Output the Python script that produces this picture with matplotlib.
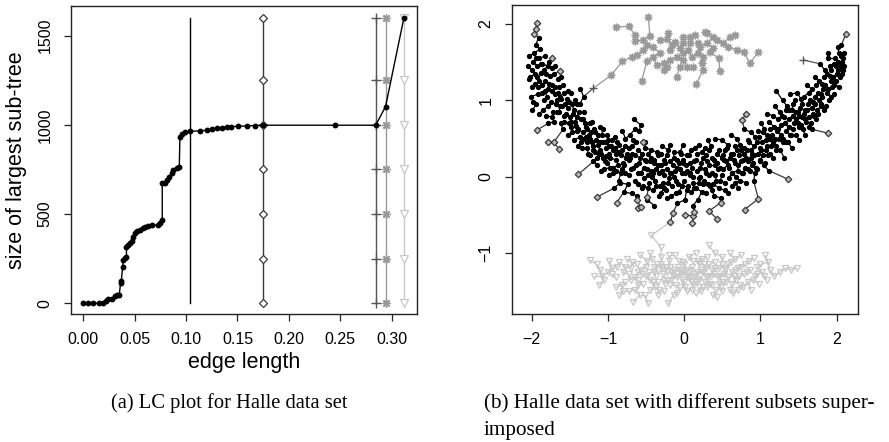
import numpy as np
import matplotlib
matplotlib.use("Agg")
import matplotlib.pyplot as plt
from matplotlib.collections import LineCollection

# ---------------- Left panel data (LC plot) ----------------
lc_x = [0.0, 0.0049, 0.0097, 0.0149, 0.0195, 0.022, 0.024, 0.0276, 0.031, 0.033, 0.035,
        0.0363, 0.037, 0.0383, 0.039, 0.0405, 0.042, 0.042, 0.0438, 0.0454, 0.047, 0.0486,
        0.050, 0.052, 0.055, 0.0577, 0.060, 0.063, 0.0665, 0.073, 0.0746, 0.0768, 0.0768,
        0.0794, 0.081, 0.0833, 0.086, 0.0875, 0.0908, 0.0934, 0.094, 0.0957, 0.0989, 0.1038,
        0.1135, 0.120, 0.1248, 0.130, 0.1346, 0.1394, 0.144, 0.1508, 0.159, 0.167, 0.175,
        0.2448, 0.2844, 0.294, 0.3119]
lc_y = [0, 0, 0, 0, 4, 15, 22, 26, 41, 47, 47,
        116, 127, 205, 243, 252, 258, 318, 327, 336, 351, 374,
        392, 405, 411, 420, 430, 433, 437, 439, 452, 467, 673,
        676, 691, 710, 729, 747, 757, 766, 934, 949, 959, 964,
        966, 970, 977, 981, 985, 988, 990, 992, 994, 996, 998,
        998, 998, 1102, 1600]
cut_x = 0.104
level_y = [0, 250, 500, 750, 1000, 1250, 1600]
diamond_x = 0.175
plus_x = 0.2844
star_x = 0.294
tri_x = 0.3119

# ---------------- Right panel data (Halle data set) ----------------
black_pts = [
    (-2.02,1.30),(-2.03,1.58),(-1.98,1.50),(-2.00,1.40),(-1.97,1.62),(-2.01,1.05),(-1.99,0.87),(-1.96,1.22),(-1.95,1.72),(-2.04,1.28),
    (-1.93,1.45),(-1.90,1.55),(-1.92,1.18),(-1.88,1.36),(-1.94,0.95),(-1.87,1.10),(-1.91,1.82),(-1.89,1.67),(-1.86,1.48),(-1.90,0.82),(-1.93,1.30),
    (-1.84,1.40),(-1.82,1.25),(-1.80,1.05),(-1.78,0.92),(-1.83,1.58),(-1.77,1.50),(-1.79,1.15),(-1.81,0.80),(-1.76,1.32),(-1.84,1.00),(-1.78,0.70),
    (-1.73,1.20),(-1.70,1.08),(-1.68,0.95),(-1.74,1.42),(-1.72,0.85),(-1.66,1.28),(-1.69,1.45),(-1.71,0.72),(-1.67,1.00),(-1.74,1.12),
    (-1.63,1.05),(-1.60,0.92),(-1.58,0.80),(-1.64,1.18),(-1.62,0.70),(-1.57,1.10),(-1.59,0.62),(-1.61,1.30),(-1.56,0.95),(-1.64,0.85),
    (-1.53,0.90),(-1.50,0.78),(-1.48,0.65),(-1.54,1.02),(-1.47,0.95),(-1.52,0.55),(-1.46,0.82),(-1.49,1.10),(-1.51,0.70),
    (-1.43,0.72),(-1.40,0.60),(-1.38,0.85),(-1.44,0.48),(-1.37,0.52),(-1.41,0.95),(-1.36,1.15),(-1.39,0.40),(-1.42,0.66),(-1.35,0.75),
    (-1.33,0.58),(-1.30,0.70),(-1.28,0.45),(-1.34,0.38),(-1.27,0.62),(-1.31,0.85),(-1.26,0.30),(-1.29,0.52),(-1.32,1.05),
    (-1.23,0.50),(-1.20,0.40),(-1.18,0.62),(-1.24,0.28),(-1.17,0.33),(-1.21,0.72),(-1.16,0.48),(-1.19,0.20),(-1.22,0.58),
    (-1.13,0.42),(-1.10,0.35),(-1.08,0.55),(-1.14,0.15),(-1.07,0.25),(-1.11,0.65),(-1.06,0.45),(-1.09,0.08),(-1.12,0.30),
    (-1.03,0.38),(-1.00,0.48),(-0.98,0.30),(-1.04,0.20),(-0.97,0.12),(-1.01,0.55),(-0.96,0.40),(-0.99,0.02),(-1.02,0.27),
    (-0.93,0.35),(-0.90,0.22),(-0.88,0.45),(-0.94,0.05),(-0.87,0.15),(-0.91,0.52),(-0.86,-0.05),(-0.89,0.30),(-0.92,-0.15),
    (-0.83,0.28),(-0.80,0.18),(-0.78,0.40),(-0.84,-0.08),(-0.77,0.05),(-0.81,0.60),(-0.76,0.25),(-0.79,-0.20),(-0.82,0.10),
    (-0.73,0.22),(-0.70,0.10),(-0.68,0.30),(-0.74,-0.10),(-0.67,0.48),(-0.71,0.55),(-0.66,0.75),(-0.69,-0.22),(-0.72,0.38),(-0.65,0.62),
    (-0.63,0.15),(-0.60,0.05),(-0.58,0.25),(-0.64,-0.05),(-0.57,0.68),(-0.61,0.35),(-0.56,-0.15),(-0.59,0.60),(-0.62,-0.25),
    (-0.53,0.12),(-0.50,0.20),(-0.48,0.02),(-0.54,-0.12),(-0.47,0.30),(-0.51,0.38),(-0.46,-0.08),(-0.49,-0.30),(-0.52,0.45),
    (-0.43,0.08),(-0.40,0.18),(-0.38,-0.05),(-0.44,0.25),(-0.37,0.10),(-0.41,-0.18),(-0.36,0.32),(-0.39,-0.38),(-0.42,0.00),
    (-0.33,0.05),(-0.30,0.15),(-0.28,-0.08),(-0.34,0.28),(-0.27,0.02),(-0.31,-0.22),(-0.26,0.22),(-0.29,0.40),(-0.32,-0.12),
    (-0.23,0.10),(-0.20,-0.02),(-0.18,0.20),(-0.24,-0.18),(-0.17,0.05),(-0.21,0.35),(-0.16,-0.12),(-0.19,0.42),(-0.22,-0.28),
    (-0.13,0.00),(-0.10,0.12),(-0.08,-0.10),(-0.14,0.25),(-0.07,0.18),(-0.11,-0.22),(-0.06,0.32),(-0.09,-0.35),(-0.12,0.08),
    (-0.03,0.05),(0.00,-0.05),(0.02,0.15),(-0.04,0.30),(0.03,-0.18),(-0.01,0.42),(0.04,0.08),(0.01,-0.30),(-0.02,0.22),
    (0.07,0.02),(0.10,0.12),(0.12,-0.08),(0.06,0.28),(0.13,0.20),(0.09,-0.20),(0.14,0.38),(0.11,-0.38),(0.08,0.05),
    (0.17,0.08),(0.20,-0.02),(0.22,0.18),(0.16,-0.15),(0.23,0.32),(0.19,0.42),(0.24,-0.10),(0.21,0.00),(0.18,-0.30),
    (0.27,0.10),(0.30,0.20),(0.32,0.02),(0.26,-0.05),(0.33,0.35),(0.29,-0.22),(0.34,-0.12),(0.31,0.48),(0.28,0.28),
    (0.37,0.05),(0.40,0.15),(0.42,-0.05),(0.36,0.25),(0.43,0.30),(0.39,-0.25),(0.44,0.10),(0.41,0.50),(0.38,-0.10),
    (0.47,0.12),(0.50,0.02),(0.52,0.22),(0.46,-0.15),(0.53,0.35),(0.49,0.48),(0.54,-0.08),(0.51,0.28),(0.48,-0.28),
    (0.57,0.15),(0.60,0.25),(0.62,0.05),(0.56,0.38),(0.63,-0.12),(0.59,-0.02),(0.64,0.30),(0.61,0.55),(0.58,-0.22),
    (0.67,0.18),(0.70,0.08),(0.72,0.28),(0.66,0.40),(0.73,-0.05),(0.69,0.50),(0.74,0.35),(0.71,-0.15),(0.68,0.00),
    (0.77,0.22),(0.80,0.12),(0.82,0.35),(0.76,0.05),(0.83,0.48),(0.79,0.62),(0.84,0.20),(0.81,-0.08),(0.78,0.30),
    (0.87,0.25),(0.90,0.18),(0.92,0.40),(0.86,0.08),(0.93,0.52),(0.89,0.30),(0.94,0.12),(0.91,-0.05),(0.88,0.58),
    (0.97,0.30),(1.00,0.22),(1.02,0.45),(0.96,0.10),(1.03,0.58),(0.99,0.38),(1.04,0.15),(1.01,0.70),(0.98,0.52),
    (1.07,0.35),(1.10,0.28),(1.12,0.50),(1.06,0.18),(1.13,0.62),(1.09,0.82),(1.14,0.40),(1.11,0.08),(1.08,0.55),
    (1.17,0.45),(1.20,0.35),(1.22,0.60),(1.16,0.25),(1.23,0.75),(1.19,0.92),(1.24,0.50),(1.21,1.12),(1.18,0.65),
    (1.27,0.55),(1.30,0.45),(1.32,0.70),(1.26,0.35),(1.33,0.88),(1.29,1.00),(1.34,0.60),(1.31,0.25),(1.28,0.80),
    (1.37,0.65),(1.40,0.55),(1.42,0.80),(1.36,0.45),(1.43,0.95),(1.39,1.08),(1.44,0.70),(1.41,0.38),(1.38,0.88),
    (1.47,0.75),(1.50,0.65),(1.52,0.90),(1.46,0.55),(1.53,1.02),(1.49,0.85),(1.54,0.78),(1.51,0.48),(1.48,1.10),
    (1.57,0.82),(1.60,0.72),(1.62,0.95),(1.56,0.62),(1.63,1.10),(1.59,0.88),(1.64,0.78),(1.61,1.20),(1.58,0.55),
    (1.67,0.90),(1.70,0.80),(1.72,1.05),(1.66,0.70),(1.73,1.20),(1.69,0.98),(1.74,0.88),(1.71,1.30),(1.68,0.62),
    (1.77,1.00),(1.80,0.92),(1.82,1.15),(1.76,0.82),(1.83,1.30),(1.79,1.08),(1.84,1.40),(1.81,1.22),(1.78,1.48),
    (1.87,1.10),(1.90,1.00),(1.92,1.25),(1.86,0.92),(1.93,1.40),(1.89,1.55),(1.94,1.18),(1.91,1.32),(1.88,1.62),
    (1.97,1.20),(2.00,1.35),(2.02,1.50),(1.96,1.08),(2.03,1.62),(1.99,1.45),(2.04,1.30),(2.01,1.70),(1.98,1.55),
    (2.06,1.45),(2.08,1.55),(2.07,1.35),(2.09,1.62),(2.06,1.72),(2.08,1.40),
]
black_pts_more = [
    (-2.05,1.45),(-2.00,1.18),(-1.98,0.98),(-1.96,1.35),(-1.94,1.55),(-1.92,1.08),(-1.90,1.25),(-1.88,1.48),(-1.86,1.20),
    (-1.85,0.88),(-1.83,1.12),(-1.81,1.35),(-1.79,1.45),(-1.77,1.22),(-1.75,0.98),(-1.73,0.78),(-1.71,1.35),(-1.69,1.18),
    (-1.67,0.85),(-1.65,1.10),(-1.63,0.92),(-1.61,1.02),(-1.59,1.20),(-1.57,0.72),(-1.55,0.82),(-1.53,1.12),(-1.51,0.98),
    (-1.49,0.72),(-1.47,0.58),(-1.45,0.88),(-1.43,1.00),(-1.41,0.78),(-1.39,0.62),(-1.37,0.95),(-1.35,0.45),(-1.33,0.75),
    (-1.31,0.50),(-1.29,0.65),(-1.27,0.38),(-1.25,0.55),(-1.23,0.70),(-1.21,0.45),(-1.19,0.35),(-1.17,0.58),(-1.15,0.25),
    (-1.13,0.55),(-1.11,0.45),(-1.09,0.30),(-1.07,0.62),(-1.05,0.10),(-1.03,0.45),(-1.01,0.18),
    (-0.99,0.40),(-0.97,0.25),(-0.95,0.48),(-0.93,0.12),(-0.91,0.38),(-0.89,0.08),(-0.87,0.32),(-0.85,0.42),(-0.83,0.05),
    (-0.81,0.35),(-0.79,0.15),(-0.77,0.50),(-0.75,0.30),(-0.73,0.02),(-0.71,0.25),(-0.69,0.40),(-0.67,0.12),(-0.65,0.28),
    (-0.63,0.45),(-0.61,-0.10),(-0.59,0.18),(-0.57,0.05),(-0.55,0.30),(-0.53,-0.02),(-0.51,0.22),
    (-0.49,0.10),(-0.47,-0.15),(-0.45,0.20),(-0.43,0.35),(-0.41,0.05),(-0.39,0.22),(-0.37,-0.12),(-0.35,0.15),(-0.33,-0.25),
    (-0.31,0.30),(-0.29,0.08),(-0.27,-0.15),(-0.25,0.18),(-0.23,0.28),(-0.21,-0.08),(-0.19,0.05),(-0.17,-0.25),(-0.15,0.15),
    (-0.13,0.32),(-0.11,-0.05),(-0.09,0.22),(-0.07,-0.20),(-0.05,0.10),(-0.03,-0.12),(-0.01,0.18),
    (0.01,0.05),(0.03,0.28),(0.05,-0.12),(0.07,0.18),(0.09,0.35),(0.11,0.00),(0.13,-0.15),(0.15,0.22),(0.17,0.30),
    (0.19,-0.08),(0.21,0.12),(0.23,-0.20),(0.25,0.25),(0.27,0.38),(0.29,0.05),(0.31,-0.10),(0.33,0.15),(0.35,0.40),
    (0.37,-0.18),(0.39,0.22),(0.41,0.02),(0.43,0.18),(0.45,0.35),(0.47,-0.05),(0.49,0.25),
    (0.51,0.10),(0.53,-0.18),(0.55,0.20),(0.57,0.42),(0.59,0.12),(0.61,0.30),(0.63,0.05),(0.65,0.22),(0.67,-0.08),
    (0.69,0.35),(0.71,0.15),(0.73,0.42),(0.75,0.20),(0.77,0.05),(0.79,0.38),(0.81,0.25),(0.83,0.10),(0.85,0.45),
    (0.87,0.35),(0.89,0.15),(0.91,0.28),(0.93,0.05),(0.95,0.45),(0.97,0.60),(0.99,0.20),
    (1.01,0.35),(1.03,0.28),(1.05,0.62),(1.07,0.48),(1.09,0.40),(1.11,0.72),(1.13,0.30),(1.15,0.55),(1.17,0.80),
    (1.19,0.50),(1.21,0.40),(1.23,0.62),(1.25,0.85),(1.27,0.68),(1.29,0.50),(1.31,0.78),(1.33,0.45),(1.35,0.92),
    (1.37,0.75),(1.39,0.55),(1.41,0.88),(1.43,0.62),(1.45,1.00),(1.47,0.85),(1.49,0.70),
    (1.51,0.80),(1.53,0.68),(1.55,0.95),(1.57,1.05),(1.59,0.75),(1.61,0.88),(1.63,0.65),(1.65,1.00),(1.67,1.15),
    (1.69,0.82),(1.71,0.95),(1.73,0.75),(1.75,1.10),(1.77,1.25),(1.79,0.95),(1.81,1.05),(1.83,0.88),(1.85,1.20),
    (1.87,1.35),(1.89,1.15),(1.91,1.45),(1.93,1.05),(1.95,1.30),(1.97,1.48),(1.99,1.25),(2.01,1.40),(2.03,1.18),
    (2.05,1.58),(2.07,1.50),(2.09,1.45),
]
diamond_pts = [
    (-1.935,2.01),(-1.944,1.93),(-1.97,1.87),(-1.73,1.55),(-1.63,1.38),(-1.935,0.61),(-1.79,0.46),
    (-1.71,0.45),(-1.64,0.36),(-1.39,0.03),(-1.15,-0.27),(-0.886,-0.34),(-0.62,-0.30),(-0.60,-0.415),
    (-0.57,-0.40),(-0.49,-0.26),(-0.536,0.46),(-0.15,-0.48),(-0.18,-0.59),(0.015,-0.50),(0.12,-0.515),
    (0.107,-0.61),(0.133,-0.46),(0.325,-0.45),(0.426,-0.55),(0.478,-0.34),(0.793,-0.43),(0.972,-0.29),
    (1.366,-0.035),(1.89,0.57),(0.758,0.74),(0.806,0.82),(2.118,1.87),
]
plus_pts = [(-1.19,1.16),(1.56,1.53)]
star_pts = [
    (-0.90,1.96),(-0.73,1.97),(-0.645,1.86),(-0.47,2.09),(-0.45,1.84),(-0.54,1.79),(-0.645,1.78),
    (-0.405,1.70),(-0.49,1.73),(-0.32,1.79),(-0.21,1.88),(-0.23,1.80),(-0.12,1.77),(-0.01,1.83),
    (0.076,1.83),(0.14,1.86),(0.185,1.75),(0.27,1.90),(0.295,1.88),(0.38,1.83),(0.43,1.79),
    (0.51,1.75),(0.60,1.83),(0.67,1.86),(0.69,1.66),(0.86,1.485),(0.97,1.63),(0.78,1.64),
    (0.45,1.55),(0.47,1.38),(0.34,1.64),(0.25,1.57),(0.16,1.22),(0.12,1.44),(-0.01,1.62),
    (-0.055,1.68),(-0.10,1.57),(-0.19,1.53),(-0.27,1.485),(-0.36,1.46),(-0.49,1.51),(-0.56,1.25),
    (-0.10,1.31),(-0.27,1.40),(-0.32,1.62),(-0.405,1.57),(-0.19,1.66),(-0.01,1.53),(0.054,1.66),
    (0.10,1.57),(0.21,1.70),(0.23,1.485),(-0.54,1.66),(-0.62,1.595),(-0.69,1.57),(-0.81,1.51),
    (-0.96,1.33),(0.076,1.75),(0.185,1.62),(0.295,1.75),(0.38,1.68),(0.58,1.70),(0.03,1.44),
    (-0.055,1.44),(0.25,1.40),(-0.23,1.44),(-0.165,1.73),(-0.01,1.75),
]
tri_pts = [
    (-1.24,-1.09),(-1.15,-1.15),(-1.10,-1.22),(-1.18,-1.30),(-1.05,-1.35),(-1.12,-1.42),(-0.98,-1.10),
    (-0.95,-1.28),(-0.90,-1.45),(-0.88,-1.18),(-0.85,-1.55),(-0.80,-1.25),(-0.78,-1.38),(-0.75,-1.08),
    (-0.72,-1.50),(-0.70,-1.20),(-0.67,-1.64),(-0.65,-1.32),(-0.62,-1.15),(-0.60,-1.42),(-0.58,-1.02),
    (-0.55,-1.28),(-0.52,-1.55),(-0.50,-1.18),(-0.47,-1.66),(-0.45,-1.35),(-0.43,-0.77),(-0.42,-1.08),
    (-0.40,-1.25),(-0.38,-1.45),(-0.36,-1.15),(-0.34,-1.38),(-0.31,-0.92),(-0.30,-1.05),(-0.28,-1.28),
    (-0.26,-1.50),(-0.24,-1.18),(-0.22,-1.35),(-0.21,-1.66),(-0.20,-1.10),(-0.18,-1.42),(-0.16,-1.25),
    (-0.14,-1.55),(-0.12,-1.02),(-0.10,-1.32),(-0.08,-1.18),(-0.06,-1.45),(-0.04,-1.28),(-0.02,-1.12),
    (0.00,-1.38),(0.02,-1.22),(0.04,-1.50),(0.06,-1.05),(0.08,-1.32),(0.10,-1.18),(0.12,-1.42),
    (0.14,-1.28),(0.16,-1.53),(0.18,-1.10),(0.20,-1.35),(0.22,-1.22),(0.24,-1.45),(0.26,-1.15),
    (0.28,-1.30),(0.30,-1.05),(0.32,-0.90),(0.34,-1.40),(0.36,-1.22),(0.38,-1.55),(0.40,-1.12),
    (0.43,-1.57),(0.44,-1.32),(0.46,-1.20),(0.48,-1.45),(0.50,-1.05),(0.52,-1.28),(0.55,-1.38),
    (0.57,-1.15),(0.60,-1.48),(0.62,-1.25),(0.645,-1.53),(0.66,-1.08),(0.68,-1.35),(0.70,-1.20),
    (0.73,-1.42),(0.75,-1.02),(0.78,-1.28),(0.80,-1.15),(0.83,-1.38),(0.86,-1.22),(0.88,-1.48),
    (0.91,-1.07),(0.93,-1.30),(0.96,-1.18),(0.98,-1.40),(1.02,-1.25),(1.06,-1.03),(1.08,-1.35),
    (1.12,-1.22),(1.18,-1.30),(1.25,-1.25),(1.32,-1.20),(1.40,-1.22),(1.475,-1.20),
    (-0.50,-1.30),(-0.35,-1.22),(-0.25,-1.40),(-0.15,-1.30),(-0.05,-1.22),(0.05,-1.30),(0.15,-1.38),
    (0.25,-1.25),(0.35,-1.30),(0.45,-1.40),(-0.60,-1.25),(-0.45,-1.48),(0.10,-1.48),(0.30,-1.45),
    (0.55,-1.20),(-0.30,-1.15),(0.00,-1.15),(0.20,-1.15),(-0.70,-1.35),(0.65,-1.30),
]
tri_pts_more = [
    (-0.95,-1.20),(-0.90,-1.32),(-0.85,-1.12),(-0.82,-1.42),(-0.77,-1.18),(-0.73,-1.28),(-0.68,-1.12),
    (-0.64,-1.48),(-0.61,-1.35),(-0.57,-1.22),(-0.54,-1.40),(-0.49,-1.10),(-0.46,-1.25),(-0.41,-1.38),
    (-0.39,-1.18),(-0.37,-1.30),(-0.33,-1.48),(-0.29,-1.20),(-0.27,-1.35),(-0.23,-1.25),(-0.19,-1.18),
    (-0.17,-1.35),(-0.13,-1.22),(-0.11,-1.42),(-0.09,-1.28),(-0.07,-1.10),(-0.03,-1.35),(-0.01,-1.25),
    (0.01,-1.45),(0.03,-1.30),(0.07,-1.22),(0.09,-1.38),(0.11,-1.10),(0.13,-1.32),(0.17,-1.25),
    (0.19,-1.45),(0.21,-1.30),(0.23,-1.08),(0.27,-1.38),(0.29,-1.20),(0.31,-1.32),(0.33,-1.15),
    (0.37,-1.42),(0.39,-1.28),(0.41,-1.20),(0.42,-1.48),(0.47,-1.30),(0.49,-1.15),(0.51,-1.38),
    (0.53,-1.22),(0.58,-1.32),(0.61,-1.12),(0.63,-1.40),(0.67,-1.22),(0.72,-1.30),(0.74,-1.18),
    (0.77,-1.45),(0.82,-1.25),(0.85,-1.10),(0.90,-1.35),(0.95,-1.28),(1.00,-1.15),(1.05,-1.30),
    (1.10,-1.12),(-1.00,-1.25),(-1.08,-1.30),(-0.80,-1.50),(-0.58,-1.55),(-0.35,-1.55),(-0.10,-1.52),
    (0.22,-1.50),(0.50,-1.50),(0.70,-1.48),(-0.20,-1.02),(0.15,-1.00),(0.40,-1.00),(-0.45,-1.00),
    (0.60,-1.00),
]

x_ticks_left = [0.00, 0.05, 0.10, 0.15, 0.20, 0.25, 0.30]
y_ticks_left = [0, 500, 1000, 1500]
x_ticks_right = [-2, -1, 0, 1, 2]
y_ticks_right = [-1, 0, 1, 2]

# ---------------- styling ----------------
C_BLACK = "#000000"
C_DIAM = "#3a3a3a"
C_PLUS = "#555555"
C_STAR = "#999999"
C_TRI = "#c8c8c8"
SANS = "Liberation Sans"
SERIF = "Liberation Serif"

fig = plt.figure(figsize=(8.89, 4.42), dpi=100)
axL = fig.add_axes([0.0795, 0.2889, 0.3899, 0.6975])
axR = fig.add_axes([0.5756, 0.2889, 0.3899, 0.6998])

def r_style(ax):
    for s in ax.spines.values():
        s.set_color("#222222")
        s.set_linewidth(1.0)
    ax.tick_params(direction="out", length=5, width=0.9, color="#222222",
                   labelsize=11.5, pad=8)
    for lab in ax.get_xticklabels() + ax.get_yticklabels():
        lab.set_fontfamily(SANS)

# ---- left ----
axL.plot([cut_x, cut_x], [level_y[0], level_y[-1]], color=C_BLACK, lw=1.0, zorder=2)
axL.plot([diamond_x] * len(level_y), level_y, color=C_DIAM, lw=1.0, marker="D",
         ms=4.2, mfc="white", mec=C_DIAM, mew=0.9, zorder=3)
axL.plot([plus_x] * len(level_y), level_y, color=C_PLUS, lw=1.0, marker="+",
         ms=7, mew=1.0, zorder=3)
axL.plot([star_x] * len(level_y), level_y, color=C_STAR, lw=1.0, marker=(8, 2, 0),
         ms=6, mew=1.0, zorder=3)
axL.plot([tri_x] * len(level_y), level_y, color=C_TRI, lw=1.0, marker="v",
         ms=5.5, mfc="white", mec=C_TRI, mew=0.9, zorder=3)
axL.plot(lc_x, lc_y, color=C_BLACK, lw=1.0, marker="o", ms=3.2, zorder=4)
axL.set_xlim(-0.01226, 0.3249)
axL.set_ylim(-61.7, 1666)
axL.set_xticks(x_ticks_left)
axL.set_xticklabels([f"{v:.2f}" for v in x_ticks_left])
axL.set_yticks(y_ticks_left)
axL.set_yticklabels([str(v) for v in y_ticks_left], rotation=90, va="center")
r_style(axL)
axL.set_xlabel("edge length", fontsize=15.5, fontfamily=SANS, va="center")
axL.xaxis.set_label_coords(0.5, (314.3 - 362) / 308.3)
axL.set_ylabel("size of largest sub-tree", fontsize=15.5, fontfamily=SANS, va="center")
axL.yaxis.set_label_coords((17 - 70.7) / 346.6, 0.5)

# ---- right ----
all_black = black_pts + black_pts_more
all_tri = tri_pts + tri_pts_more
groups = [all_black, diamond_pts, plus_pts, star_pts, all_tri]
colors = [C_BLACK, C_DIAM, C_PLUS, C_STAR, C_TRI]
P = np.array([p for g in groups for p in g], dtype=float)
rank = np.concatenate([np.full(len(g), k) for k, g in enumerate(groups)])

def mst_edges(pts):
    n = len(pts)
    in_tree = np.zeros(n, bool)
    dist = np.full(n, np.inf)
    parent = np.full(n, -1)
    dist[0] = 0.0
    edges = []
    for _ in range(n):
        d = np.where(in_tree, np.inf, dist)
        i = int(np.argmin(d))
        in_tree[i] = True
        if parent[i] >= 0:
            edges.append((parent[i], i))
        dd = np.hypot(pts[:, 0] - pts[i, 0], pts[:, 1] - pts[i, 1])
        upd = (~in_tree) & (dd < dist)
        dist[upd] = dd[upd]
        parent[upd] = i
    return edges

edges = mst_edges(P)
for k in range(len(groups)):
    segs = [[P[a], P[b]] for a, b in edges if max(rank[a], rank[b]) == k]
    if segs:
        axR.add_collection(LineCollection(segs, colors=colors[k], linewidths=0.9,
                                          zorder=2 + (4 - k) * 0.1))

bp = np.array(all_black); dp = np.array(diamond_pts); pp = np.array(plus_pts)
sp = np.array(star_pts); tp = np.array(all_tri)
axR.plot(tp[:, 0], tp[:, 1], ls="none", marker="v", ms=5, mfc="none", mec=C_TRI, mew=0.9, zorder=3)
axR.plot(sp[:, 0], sp[:, 1], ls="none", marker=(8, 2, 0), ms=5.5, mec=C_STAR, mew=1.0, zorder=3)
axR.plot(pp[:, 0], pp[:, 1], ls="none", marker="+", ms=6, mec=C_PLUS, mew=1.0, zorder=3)
axR.plot(bp[:, 0], bp[:, 1], ls="none", marker="o", ms=2.8, mfc=C_BLACK, mec=C_BLACK, zorder=4)
axR.plot(dp[:, 0], dp[:, 1], ls="none", marker="D", ms=3.3, mfc="#bbbbbb", mec=C_DIAM, mew=0.9, zorder=5)
axR.set_xlim(-2.262, 2.283)
axR.set_ylim(-1.803, 2.25)
axR.set_xticks(x_ticks_right)
axR.set_xticklabels(["\u2212" + str(-v) if v < 0 else str(v) for v in x_ticks_right])
axR.set_yticks(y_ticks_right)
axR.set_yticklabels(["\u2212" + str(-v) if v < 0 else str(v) for v in y_ticks_right],
                    rotation=90, va="center")
r_style(axR)

# ---- captions ----
fig.text(229 / 889, 1 - 403 / 442, "(a) LC plot for Halle data set", ha="center", va="center",
         fontsize=14.8, fontfamily=SERIF)
fig.text(484 / 889, 1 - 403 / 442, "(b) Halle data set with different subsets super-",
         ha="left", va="center", fontsize=15.2, fontfamily=SERIF)
fig.text(484 / 889, 1 - 430 / 442, "imposed", ha="left", va="center", fontsize=15.2, fontfamily=SERIF)

fig.savefig("out.png", dpi=100)
